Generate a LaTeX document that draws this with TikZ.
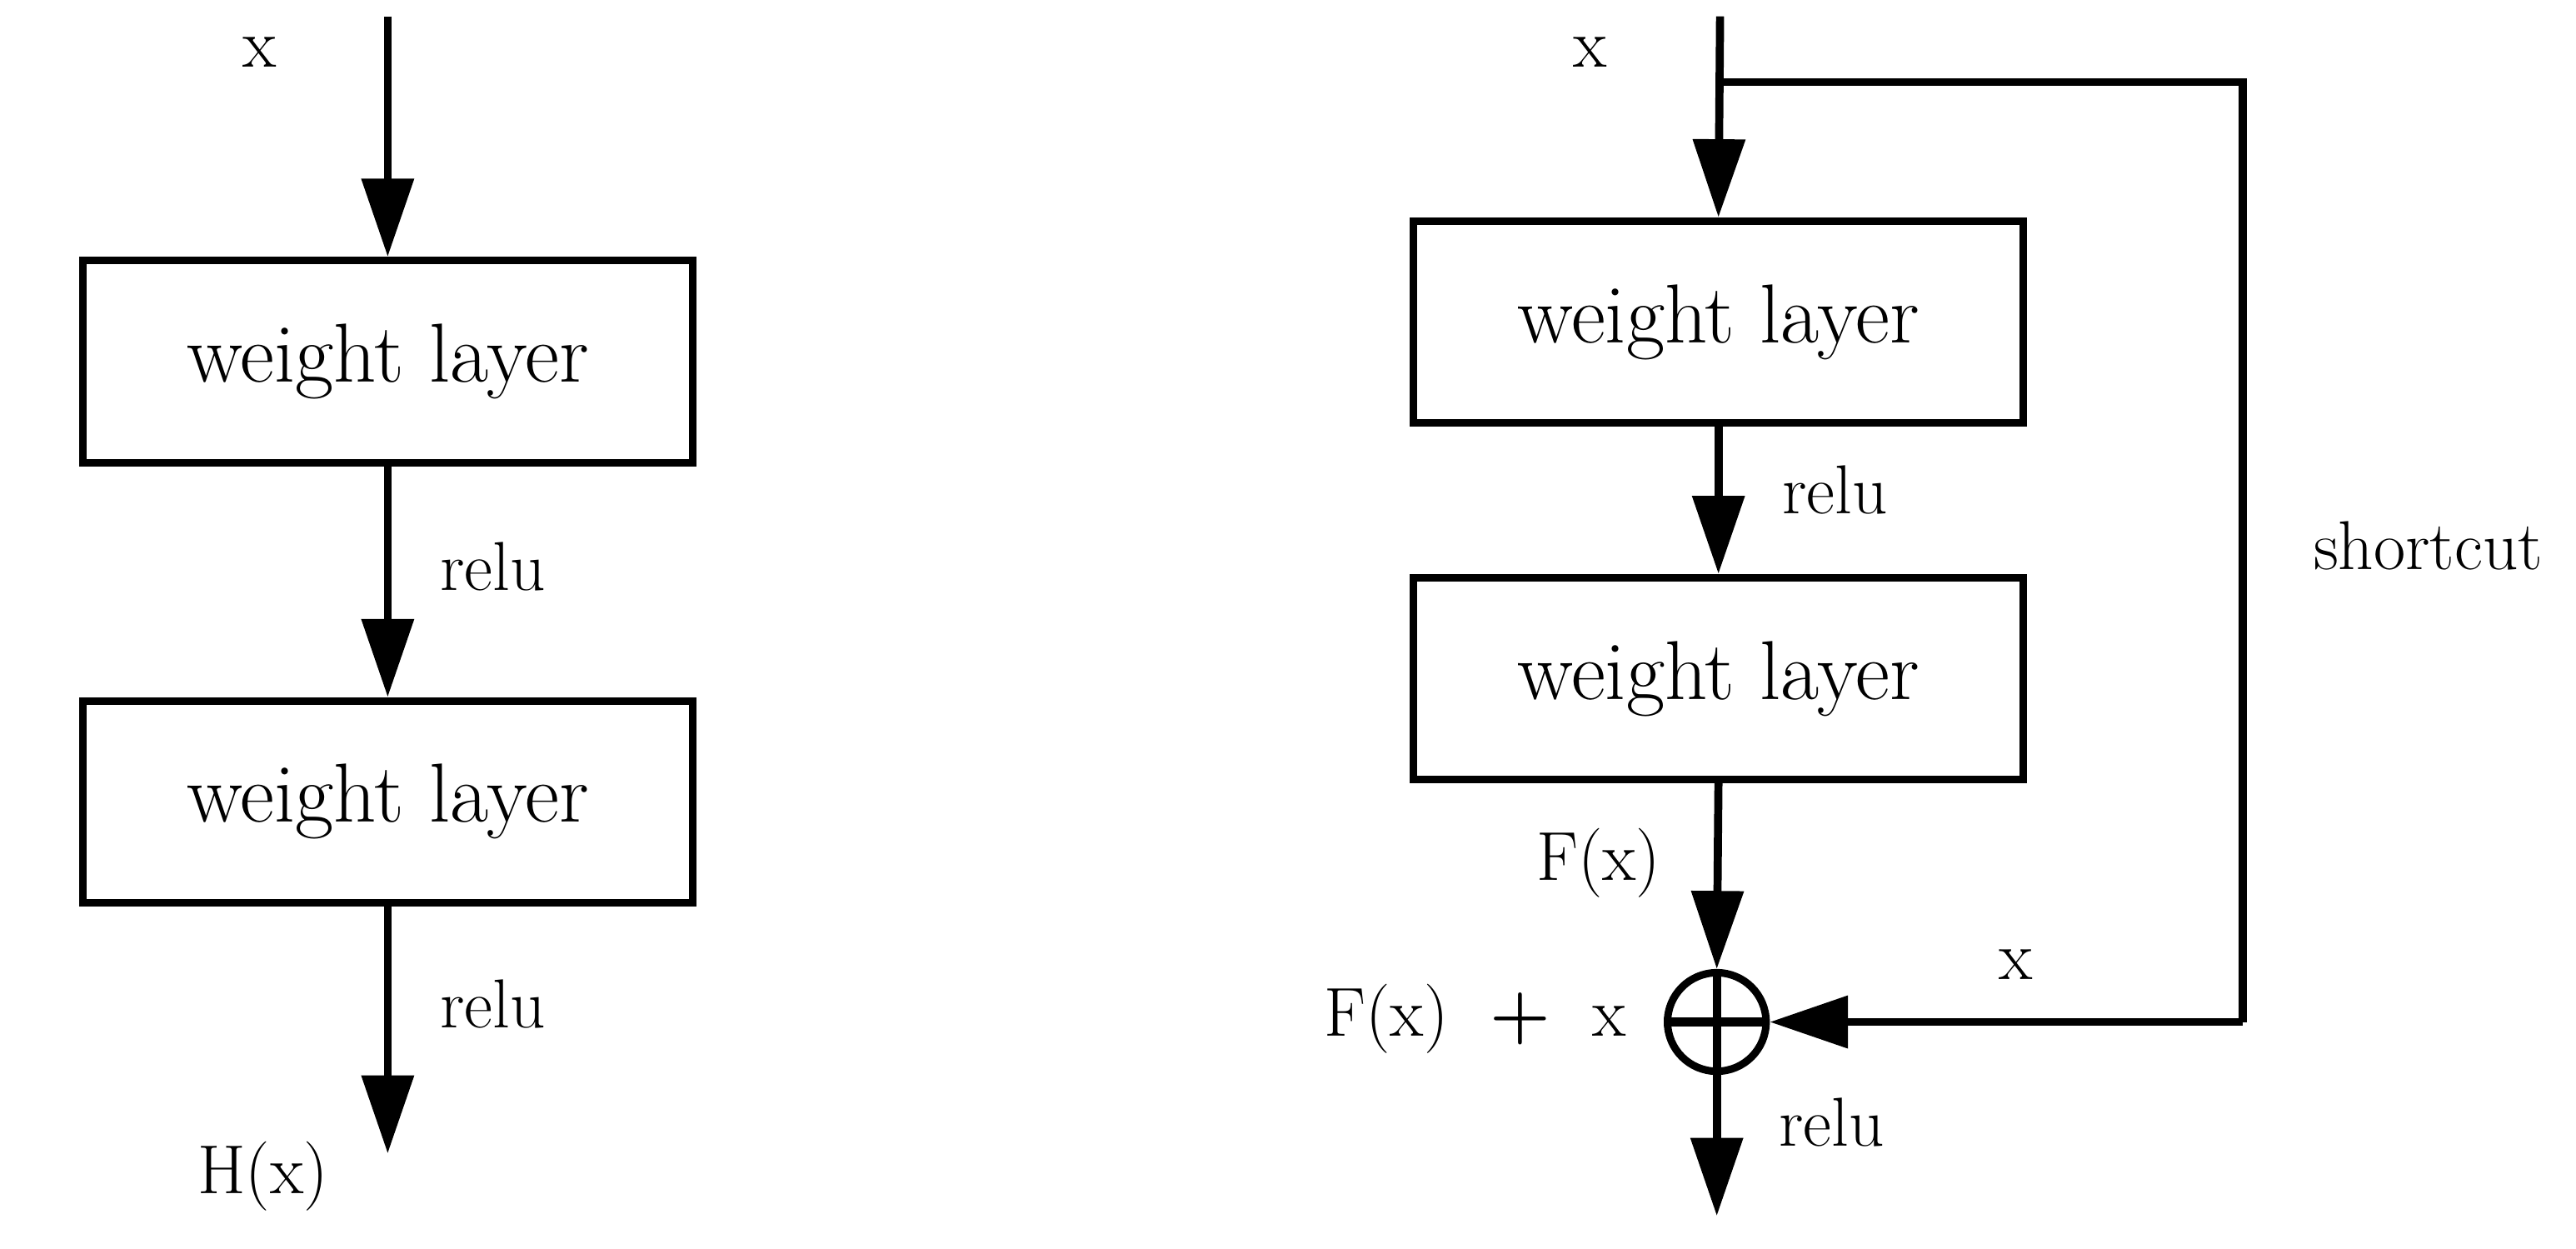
\documentclass[tikz,border=0pt]{standalone}
\usetikzlibrary{arrows.meta}
\begin{document}
\begin{tikzpicture}[x=0.02cm,y=-0.02cm,
  box/.style={draw,line width=2.6pt,minimum width=7.42cm,minimum height=2.46cm,font=\fontsize{29}{34}\selectfont},
  lab/.style={font=\fontsize{24}{28}\selectfont},
  con/.style={line width=2.8pt,-{Triangle[length=0.95cm,width=0.62cm]}},
  ln/.style={line width=2.8pt}]
\useasboundingbox (0,0) rectangle (1568,760);
% left
\coordinate (lin) at (236,10);
\node[box] (b1) at (236,220) {weight layer};
\node[box] (b2) at (236,488) {weight layer};
\coordinate (lout) at (236,702);
\node[lab] (lx) at (158,32) {x};
\node[lab] (lr1) at (300,345) {relu};
\node[lab] (lr2) at (300,611) {relu};
\node[lab] (lh) at (160,716) {H(x)};
\draw[con] (lin) -- (b1.north);
\draw[con] (b1.south) -- (b2.north);
\draw[con] (b2.south) -- (lout);
% right
\coordinate (rin) at (1047,10);
\coordinate (sp) at (1047,50);
\coordinate (c1) at (1365,50);
\coordinate (c2) at (1365,622);
\node[box] (b3) at (1046,196) {weight layer};
\node[box] (b4) at (1046,413) {weight layer};
\node[draw,circle,line width=2.6pt,minimum size=1.2cm,inner sep=0pt] (pl) at (1045,622) {};
\draw[line width=3pt] (pl.north) -- (pl.south) (pl.west) -- (pl.east);
\coordinate (rout) at (1045,740);
\node[lab] (rx) at (968,32) {x};
\node[lab] (rr1) at (1117,298) {relu};
\node[lab] (fx) at (973,525) {F(x)};
\node[lab] (fpx) at (898,620) {F(x)\ \ \textbf{+}\ \ x};
\node[lab] (rr2) at (1115,683) {relu};
\node[lab] (sc) at (1478,332) {shortcut};
\node[lab] (sx) at (1227,587) {x};
\draw[con] (rin) -- (b3.north);
\draw[ln] (sp) -- (c1) -- (c2);
\draw[con] (c2) -- (pl.east);
\draw[con] (b3.south) -- (b4.north);
\draw[con] (b4.south) -- (pl.north);
\draw[con] (pl.south) -- (rout);
\end{tikzpicture}
\end{document}
